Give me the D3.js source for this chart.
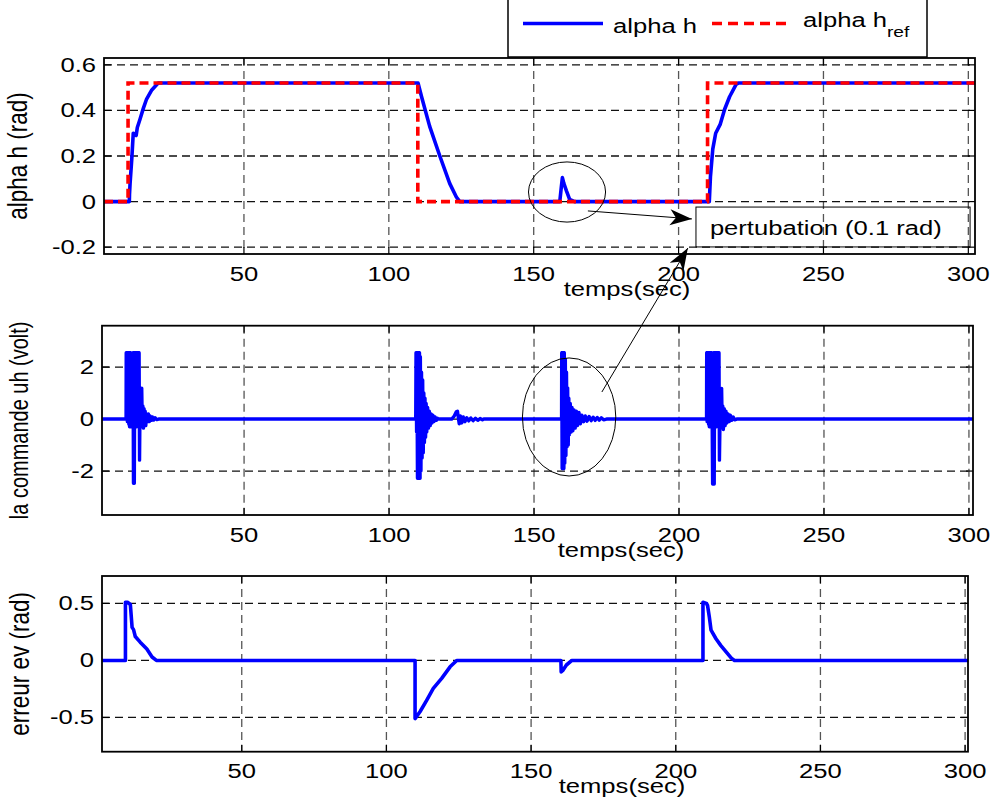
<!DOCTYPE html>
<html><head><meta charset="utf-8">
<script src="https://cdn.jsdelivr.net/npm/d3@7"></script>
<style>
body{margin:0;background:#fff}
svg{display:block}
text{font-family:"Liberation Sans",Arial,Helvetica,sans-serif;fill:#000}
</style>
</head><body>
<svg id="c" width="996" height="801"></svg>
<script>
// ---------- data ----------
const xTicks = [50, 100, 150, 200, 250, 300];
const topYTicks = [-0.2, 0, 0.2, 0.4, 0.6];
const midYTicks = [-2, 0, 2];
const botYTicks = [-0.5, 0, 0.5];

// reference alpha h_ref (t, rad)
const alphaRef = [[1.7,0],[10,0],[10,0.52],[110,0.52],[110,0],[210,0],[210,0.52],[302.3,0.52]];

// measured alpha h (t, rad)
const alphaH = [
  [1.7,0],[10.45,0],[10.5,0.03],[10.7,0.08],[11.3,0.19],[11.8,0.3],[12.8,0.29],[13.2,0.325],[14.1,0.36],
  [15.3,0.41],[16.4,0.45],[18.2,0.49],[20.4,0.52],
  [110.1,0.52],[111.3,0.46],[114.1,0.33],[117.6,0.2],[121.0,0.08],[123.3,0.02],[124.5,0],
  [159.0,0],[159.5,0.06],[159.9,0.105],[160.4,0.08],[161.3,0.047],[162.4,0.01],[164.1,0],
  [210.6,0],[211.0,0.11],[211.8,0.23],[212.8,0.3],[214.4,0.34],[215.9,0.405],[217.6,0.46],[219.9,0.515],[220.6,0.52],
  [302.3,0.52]
];

// control signal uh (t, volt)
const commandUh = [
  [1,0],[9.3,0],[9.35,2.55],[9.5,0],[9.6,2.55],[9.75,-0.1],[9.85,2.55],[10.0,0.1],[10.1,2.55],[10.25,-0.2],
  [10.35,2.55],[10.5,-0.3],[10.6,2.55],[10.75,-0.3],[10.9,2.55],[11.1,-0.3],[11.3,0.8],[11.5,-0.3],[11.7,2.55],
  [11.85,-2.47],[12.0,2.55],[12.15,-2.47],[12.3,2.55],[12.45,-0.3],[12.55,2.55],[12.7,-0.2],[12.8,2.55],
  [12.95,-0.3],[13.05,2.55],[13.2,-0.2],[13.3,2.55],[13.45,-0.3],[13.55,2.55],[13.7,-0.2],[13.8,2.55],
  [13.95,-1.58],[14.1,0.3],[14.3,-0.3],[14.7,1.19],[14.9,-0.2],[15.1,0.5],[15.3,-0.35],[15.5,0.4],[15.7,-0.2],
  [15.9,0.3],[16.1,-0.25],[16.4,0.2],[16.7,-0.1],[17.0,0.2],[17.3,-0.1],[17.6,0.12],[18.0,-0.05],[18.4,0.08],
  [18.8,-0.04],[19.3,0.05],[19.9,-0.02],[20.5,0],
  [109.2,0],[109.3,2.55],[109.5,-0.5],[109.6,2.55],[109.8,-2.28],[109.9,2.55],[110.1,-2.28],[110.2,2.55],
  [110.4,-2.28],[110.5,2.55],[110.7,-2.28],[110.8,2.4],[111.0,-2.0],[111.2,1.8],[111.4,-1.5],[111.6,1.5],
  [111.8,-1.3],[112.0,1.0],[112.2,-0.9],[112.4,0.8],[112.6,-0.7],[112.8,0.6],[113.0,-0.5],[113.3,0.45],
  [113.6,-0.35],[113.9,0.3],[114.2,-0.25],[114.5,0.2],[114.8,-0.15],[115.1,0.15],[115.5,-0.1],[115.9,0.08],
  [116.3,-0.05],[116.7,0.03],[117.0,0],
  [121.6,0],[122.4,0.1],[123.2,0.28],[123.6,0.3],[123.9,0.05],[124.2,-0.18],[124.6,0.12],[125.1,-0.15],
  [125.6,0.08],[126.2,-0.1],[126.8,0.05],[127.5,-0.07],[128.2,0.04],[129.0,-0.06],[129.8,0.03],[130.6,-0.05],
  [131.4,0.02],[132.2,-0.03],[132.6,0],
  [159.5,0],[159.55,2.55],[159.7,-1.9],[159.85,2.55],[160.0,-1.9],[160.15,2.55],[160.3,-1.9],[160.45,2.55],
  [160.6,-1.7],[160.8,2.3],[161.0,-1.4],[161.2,1.8],[161.4,-1.06],[161.6,1.2],[161.8,-1.0],[162.0,0.8],
  [162.2,-0.6],[162.5,0.6],[162.8,-0.5],[163.1,0.45],[163.4,-0.45],[163.8,0.35],[164.2,-0.35],[164.6,0.3],
  [165.0,-0.25],[165.5,0.25],[166.0,-0.18],[166.5,0.15],[167.1,-0.1],[167.7,0.12],[168.3,-0.08],[169.0,0.1],
  [169.7,-0.06],[170.4,0.07],[171.1,-0.05],[171.8,0.06],[172.5,-0.04],[173.2,0.05],[174.0,-0.03],[175.0,0],
  [209.5,0],[209.55,2.55],[209.7,-0.1],[209.8,2.55],[209.95,0.1],[210.05,2.55],[210.2,-0.2],[210.3,2.55],
  [210.45,-0.3],[210.55,2.55],[210.7,-0.3],[210.8,2.55],[210.95,-0.2],[211.05,2.55],[211.2,-0.3],[211.3,2.55],
  [211.45,-0.3],[211.6,-2.5],[212.0,2.55],[212.15,-2.5],[212.3,2.55],[212.45,-0.3],[212.55,2.55],[212.7,-0.2],
  [212.8,2.55],[212.95,-0.3],[213.05,2.55],[213.2,-0.2],[213.3,2.55],[213.45,-0.3],[213.55,2.55],[213.7,-0.2],
  [213.8,2.55],[213.95,-1.58],[214.2,0.3],[214.4,-0.3],[214.7,1.18],[214.9,-0.2],[215.1,0.5],[215.3,-0.4],
  [215.6,0.4],[215.9,-0.25],[216.2,0.3],[216.5,-0.15],[216.9,0.2],[217.3,-0.1],[217.7,0.15],[218.2,-0.05],
  [218.7,0.08],[219.2,-0.03],[219.9,0],
  [301.4,0]
];

// error ev (t, rad)
const erreurEv = [
  [1.7,0],[9.8,0],[9.8,0.51],[10.5,0.51],[11.5,0.49],[12.1,0.29],[12.6,0.27],[13.2,0.21],[14.9,0.16],
  [17.2,0.1],[19.0,0.03],[20.5,0],
  [109.9,0],[109.9,-0.51],[111.6,-0.45],[113.9,-0.35],[116.2,-0.245],[119.1,-0.157],[122.0,-0.056],[124.3,0],
  [160.3,0],[160.4,-0.1],[160.9,-0.09],[162.2,-0.04],[164.1,0],
  [209.4,0],[209.4,0.51],[210.6,0.5],[211.0,0.48],[211.6,0.38],[212.2,0.265],[213.9,0.19],[215.6,0.13],
  [217.4,0.075],[219.2,0.02],[220.3,0],[301,0]
];

const legendLabels = ["alpha h", "alpha h", "ref"];
const annotationText = "pertubation (0.1 rad)";
const xLabel = "temps(sec)";
const yLabels = ["alpha h (rad)", "la commande uh (volt)", "erreur ev (rad)"];

// ---------- drawing ----------
const svg = d3.select("#c");
const SX = 1.28;

function stext(parent, x, y, str, size, anchor) {
  const g = parent.append("g").attr("transform", `translate(${x},${y}) scale(${SX},1)`);
  return g.append("text").attr("text-anchor", anchor || "start").style("font-size", size + "px").text(str);
}
function vtext(parent, x, y, str, size, sy) {
  const g = parent.append("g").attr("transform", `translate(${x},${y}) rotate(-90) scale(1,${sy})`);
  return g.append("text").attr("text-anchor", "middle").style("font-size", size + "px").text(str);
}

const panels = [
  {x0:104, x1:975, y0:58,  y1:254,   xd:[1.7,302.3], yd:[-0.23,0.63], yt:topYTicks, yl:yLabels[0], yls:22.5, ylx:27, xlc:627},
  {x0:102, x1:973, y0:325.7, y1:515, xd:[1,301.4],   yd:[-3.69,3.59], yt:midYTicks, yl:yLabels[1], yls:20,   ylx:28, xlc:621},
  {x0:102, x1:968, y0:576, y1:751.7, xd:[1.7,301],   yd:[-0.8,0.74],  yt:botYTicks, yl:yLabels[2], yls:22.5, ylx:28.5, xlc:622}
];

panels.forEach((p, i) => {
  p.x = d3.scaleLinear().domain(p.xd).range([p.x0, p.x1]);
  p.y = d3.scaleLinear().domain(p.yd).range([p.y1, p.y0]);
  const g = svg.append("g");
  p.g = g;
  // clip
  g.append("clipPath").attr("id", "clip" + i).append("rect")
    .attr("x", p.x0).attr("y", p.y0).attr("width", p.x1 - p.x0).attr("height", p.y1 - p.y0);
  // grid
  g.append("g").selectAll("line").data(xTicks).join("line")
    .attr("x1", d => p.x(d)).attr("x2", d => p.x(d)).attr("y1", p.y0).attr("y2", p.y1)
    .attr("stroke", "#555").attr("stroke-width", 1.3).attr("stroke-dasharray", "8,5");
  g.append("g").selectAll("line").data(p.yt).join("line")
    .attr("x1", p.x0).attr("x2", p.x1).attr("y1", d => p.y(d)).attr("y2", d => p.y(d))
    .attr("stroke", "#111").attr("stroke-width", 1.3).attr("stroke-dasharray", "8,5");
  // ticks (inward)
  const tl = 7;
  g.append("g").selectAll("line").data(xTicks).join("line")
    .attr("x1", d => p.x(d)).attr("x2", d => p.x(d)).attr("y1", p.y1).attr("y2", p.y1 - tl)
    .attr("stroke", "#000").attr("stroke-width", 1.2);
  g.append("g").selectAll("line").data(xTicks).join("line")
    .attr("x1", d => p.x(d)).attr("x2", d => p.x(d)).attr("y1", p.y0).attr("y2", p.y0 + tl)
    .attr("stroke", "#000").attr("stroke-width", 1.2);
  g.append("g").selectAll("line").data(p.yt).join("line")
    .attr("x1", p.x0).attr("x2", p.x0 + tl).attr("y1", d => p.y(d)).attr("y2", d => p.y(d))
    .attr("stroke", "#000").attr("stroke-width", 1.2);
  g.append("g").selectAll("line").data(p.yt).join("line")
    .attr("x1", p.x1).attr("x2", p.x1 - tl).attr("y1", d => p.y(d)).attr("y2", d => p.y(d))
    .attr("stroke", "#000").attr("stroke-width", 1.2);
  // tick labels
  xTicks.forEach(t => stext(g, p.x(t), p.y1 + 26.5, String(t), 20, "middle"));
  p.yt.forEach(v => stext(g, p.x0 - 8, p.y(v) + 7, String(v), 20, "end"));
  // axis labels
  stext(g, p.xlc, p.y1 + 41.5, xLabel, 20, "middle");
  vtext(g, p.ylx, (p.y0 + p.y1) / 2, p.yl, p.yls, 1.26);
});

function line(p) {
  return d3.line().x(d => p.x(d[0])).y(d => p.y(d[1]));
}

// top panel data
const P0 = panels[0], P1 = panels[1], P2 = panels[2];
const d0 = P0.g.append("g").attr("clip-path", "url(#clip0)");
d0.append("path").datum(alphaH).attr("d", line(P0)).attr("fill", "none")
  .attr("stroke", "#0000ff").attr("stroke-width", 3.6).attr("stroke-linejoin", "round");
d0.append("path").datum(alphaRef).attr("d", line(P0)).attr("fill", "none")
  .attr("stroke", "#ff0000").attr("stroke-width", 3.6).attr("stroke-dasharray", "9,5");

const d1 = P1.g.append("g").attr("clip-path", "url(#clip1)");
d1.append("path").datum(commandUh).attr("d", line(P1)).attr("fill", "none")
  .attr("stroke", "#0000ff").attr("stroke-width", 3.4).attr("stroke-linejoin", "round");

const d2 = P2.g.append("g").attr("clip-path", "url(#clip2)");
d2.append("path").datum(erreurEv).attr("d", line(P2)).attr("fill", "none")
  .attr("stroke", "#0000ff").attr("stroke-width", 3.6).attr("stroke-linejoin", "round");

// axes boxes
panels.forEach(p => {
  p.g.append("rect").attr("x", p.x0).attr("y", p.y0).attr("width", p.x1 - p.x0).attr("height", p.y1 - p.y0)
    .attr("fill", "none").attr("stroke", "#000").attr("stroke-width", 1.8);
});

// ---------- annotations ----------
const ann = svg.append("g");
function ellipse(p, cx, cy, rx, ry) {
  ann.append("ellipse").attr("cx", p.x(cx)).attr("cy", p.y(cy))
    .attr("rx", p.x(cx + rx) - p.x(cx)).attr("ry", p.y(cy) - p.y(cy + ry))
    .attr("fill", "none").attr("stroke", "#000").attr("stroke-width", 1);
}
function arrow(x1, y1, x2, y2) {
  ann.append("line").attr("x1", x1).attr("y1", y1).attr("x2", x2).attr("y2", y2)
    .attr("stroke", "#000").attr("stroke-width", 1);
  const a = Math.atan2(y2 - y1, x2 - x1), L = 22, W = 8, N = 6;
  const ux = Math.cos(a), uy = Math.sin(a), nx = -uy, ny = ux;
  const bx = x2 - ux * L, by = y2 - uy * L;
  const pts = [[x2, y2], [bx + nx * W, by + ny * W], [x2 - ux * (L - N), y2 - uy * (L - N)], [bx - nx * W, by - ny * W]];
  ann.append("path").attr("d", "M" + pts.map(q => q.join(",")).join("L") + "Z").attr("fill", "#000");
}
ellipse(P0, 161.5, 0.042, 13.3, 0.132);
ellipse(P1, 162.1, 0.08, 16.1, 2.27);
arrow(P0.x(168.7), P0.y(-0.041), P0.x(204.6), P0.y(-0.076));
arrow(P1.x(173.4), P1.y(1.04), P0.x(203.2), P0.y(-0.204));
ann.append("rect").attr("x", P0.x(206.0)).attr("y", P0.y(-0.024))
  .attr("width", P0.x(300.6) - P0.x(206.0)).attr("height", P0.y(-0.199) - P0.y(-0.024))
  .attr("fill", "none").attr("stroke", "#000").attr("stroke-width", 1);
stext(ann, P0.x(210.8), P0.y(-0.147), annotationText, 20, "start");

// ---------- legend ----------
const lg = svg.append("g");
lg.append("rect").attr("x", 508).attr("y", -3).attr("width", 419).attr("height", 60)
  .attr("fill", "#fff").attr("stroke", "#000").attr("stroke-width", 1.5);
lg.append("line").attr("x1", 523).attr("x2", 603).attr("y1", 23.5).attr("y2", 23.5)
  .attr("stroke", "#0000ff").attr("stroke-width", 3.6);
stext(lg, 613, 33, legendLabels[0], 20, "start");
lg.append("line").attr("x1", 712).attr("x2", 788).attr("y1", 23.5).attr("y2", 23.5)
  .attr("stroke", "#ff0000").attr("stroke-width", 3.6).attr("stroke-dasharray", "10,6");
const lt = stext(lg, 803, 27, legendLabels[1], 20, "start");
lt.append("tspan").attr("dy", 10).style("font-size", "15px").text(legendLabels[2]);
</script>
</body></html>
